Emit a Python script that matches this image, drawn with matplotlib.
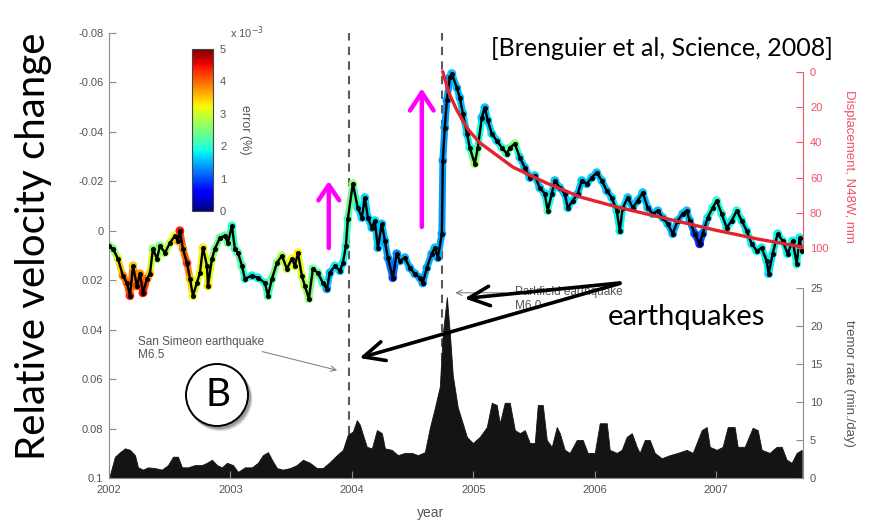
import numpy as np
import matplotlib
matplotlib.use("Agg")
import matplotlib.pyplot as plt
from matplotlib.patches import Ellipse, FancyArrowPatch
from matplotlib.collections import LineCollection

plt.rcParams["font.family"] = ["Liberation Sans", "DejaVu Sans"]

# relative velocity change dv/v (positive = slower), with its error (x1e-3 %)
dvv_year = [
    2002.000, 2002.033, 2002.074, 2002.115, 2002.148, 2002.173, 2002.198, 2002.230,
    2002.255, 2002.280, 2002.313, 2002.337, 2002.362, 2002.395, 2002.420, 2002.461,
    2002.502, 2002.543, 2002.568, 2002.584, 2002.609, 2002.642, 2002.667, 2002.691,
    2002.724, 2002.749, 2002.774, 2002.807, 2002.815, 2002.848, 2002.872, 2002.914,
    2002.955, 2002.979, 2003.012, 2003.037, 2003.062, 2003.095, 2003.119, 2003.177,
    2003.226, 2003.284, 2003.309, 2003.342, 2003.383, 2003.424, 2003.465, 2003.506,
    2003.531, 2003.556, 2003.588, 2003.613, 2003.646, 2003.679, 2003.720, 2003.761,
    2003.794, 2003.819, 2003.860, 2003.901, 2003.926, 2003.951, 2003.967, 2004.008,
    2004.049, 2004.082, 2004.107, 2004.132, 2004.165, 2004.189, 2004.214, 2004.247,
    2004.272, 2004.296, 2004.337, 2004.370, 2004.395, 2004.436, 2004.477, 2004.519,
    2004.560, 2004.584, 2004.617, 2004.658, 2004.683, 2004.708, 2004.741, 2004.749,
    2004.765, 2004.782, 2004.807, 2004.823, 2004.864, 2004.889, 2004.914, 2004.947,
    2004.971, 2005.012, 2005.037, 2005.070, 2005.095, 2005.119, 2005.152, 2005.193,
    2005.235, 2005.276, 2005.300, 2005.342, 2005.383, 2005.424, 2005.465, 2005.506,
    2005.547, 2005.588, 2005.613, 2005.646, 2005.671, 2005.712, 2005.753, 2005.778,
    2005.819, 2005.860, 2005.893, 2005.934, 2005.975, 2006.016, 2006.058, 2006.099,
    2006.140, 2006.181, 2006.206, 2006.230, 2006.272, 2006.313, 2006.354, 2006.395,
    2006.436, 2006.477, 2006.519, 2006.560, 2006.601, 2006.642, 2006.683, 2006.724,
    2006.757, 2006.782, 2006.823, 2006.864, 2006.889, 2006.930, 2006.971, 2007.004,
    2007.045, 2007.086, 2007.128, 2007.169, 2007.210, 2007.251, 2007.292, 2007.333,
    2007.374, 2007.416, 2007.432, 2007.465, 2007.506, 2007.547, 2007.588, 2007.630,
    2007.663, 2007.687, 2007.704,
]
dvv_value = [
    0.0061, 0.0073, 0.0113, 0.0182, 0.0211, 0.0263, 0.0142, 0.0223,
    0.0174, 0.0251, 0.0194, 0.0174, 0.0073, 0.0113, 0.0061, 0.0089,
    0.0049, 0.0020, 0.0041, 0.0000, 0.0073, 0.0130, 0.0194, 0.0263,
    0.0211, 0.0170, 0.0069, 0.0142, 0.0223, 0.0113, 0.0073, 0.0028,
    0.0020, 0.0049, -0.0020, 0.0073, 0.0089, 0.0142, 0.0194, 0.0182,
    0.0190, 0.0211, 0.0263, 0.0194, 0.0130, 0.0101, 0.0154, 0.0113,
    0.0142, 0.0089, 0.0182, 0.0223, 0.0275, 0.0154, 0.0170, 0.0211,
    0.0235, 0.0170, 0.0142, 0.0162, 0.0130, 0.0061, -0.0049, -0.0190,
    -0.0093, -0.0053, -0.0134, -0.0053, -0.0012, -0.0041, 0.0069, -0.0028,
    0.0041, 0.0109, 0.0190, 0.0093, 0.0122, 0.0109, 0.0150, 0.0174,
    0.0190, 0.0211, 0.0150, 0.0093, 0.0069, 0.0109, 0.0012, -0.0284,
    -0.0417, -0.0527, -0.0620, -0.0636, -0.0579, -0.0539, -0.0474, -0.0393,
    -0.0336, -0.0271, -0.0336, -0.0458, -0.0498, -0.0446, -0.0393, -0.0365,
    -0.0336, -0.0312, -0.0336, -0.0352, -0.0296, -0.0255, -0.0215, -0.0223,
    -0.0174, -0.0150, -0.0081, -0.0150, -0.0203, -0.0174, -0.0150, -0.0093,
    -0.0122, -0.0150, -0.0203, -0.0190, -0.0215, -0.0235, -0.0203, -0.0162,
    -0.0134, -0.0081, 0.0000, -0.0093, -0.0134, -0.0093, -0.0122, -0.0154,
    -0.0093, -0.0069, -0.0081, -0.0053, -0.0028, 0.0012, -0.0041, -0.0069,
    -0.0081, -0.0041, 0.0012, 0.0053, 0.0012, -0.0053, -0.0093, -0.0122,
    -0.0069, -0.0012, -0.0041, -0.0081, -0.0041, 0.0000, 0.0053, 0.0081,
    0.0069, 0.0122, 0.0174, 0.0093, 0.0012, 0.0041, 0.0093, 0.0041,
    0.0134, 0.0028, 0.0081,
]
dvv_error = [
    2.5, 2.5, 3.0, 3.8, 4.0, 4.3, 3.5, 4.2,
    3.8, 4.5, 4.0, 3.5, 2.6, 2.8, 2.5, 2.8,
    3.0, 3.2, 3.6, 4.4, 3.8, 4.2, 3.5, 3.2,
    3.0, 3.2, 3.3, 3.0, 3.4, 2.8, 2.5, 2.4,
    2.3, 2.4, 2.0, 2.2, 2.3, 2.2, 2.0, 1.8,
    1.8, 2.0, 2.2, 2.3, 2.6, 2.8, 3.0, 3.2,
    3.0, 3.3, 3.0, 2.8, 2.6, 2.4, 2.3, 2.0,
    1.5, 1.6, 1.8, 1.7, 1.8, 2.0, 2.2, 2.6,
    1.8, 1.7, 1.7, 1.6, 1.6, 1.7, 1.6, 1.6,
    1.5, 1.4, 1.0, 1.3, 1.5, 1.5, 1.5, 1.5,
    1.5, 1.4, 1.5, 1.5, 1.6, 1.5, 1.4, 1.4,
    1.4, 1.4, 1.4, 1.6, 1.6, 1.6, 1.6, 1.7,
    1.9, 2.8, 2.2, 1.6, 1.6, 1.6, 1.7, 1.7,
    2.0, 2.2, 2.4, 2.5, 1.7, 1.6, 1.6, 1.6,
    1.6, 1.7, 2.2, 1.7, 1.6, 1.6, 1.6, 1.7,
    1.7, 1.6, 1.6, 1.6, 1.6, 1.6, 1.6, 1.6,
    1.7, 1.8, 1.8, 1.8, 1.6, 1.6, 1.6, 1.6,
    1.6, 1.6, 1.6, 1.6, 1.6, 1.5, 1.6, 1.6,
    1.6, 1.5, 1.0, 0.8, 1.2, 1.8, 1.9, 2.0,
    1.9, 1.8, 1.8, 1.9, 1.8, 1.8, 1.8, 1.8,
    1.8, 1.8, 1.7, 1.8, 1.8, 1.9, 1.8, 1.8,
    1.9, 1.8, 2.0,
]

# postseismic displacement (mm) after Parkfield
disp_year = [2004.749, 2004.80, 2004.864, 2004.95, 2005.05, 2005.325, 2005.60,
             2005.88, 2006.20, 2006.535, 2006.99, 2007.35, 2007.71]
disp_mm = [0, 12, 21.6, 32, 40, 54, 63, 71, 77, 82.4, 89.8, 95, 99.4]

# non-volcanic tremor rate (min/day)
tremor_year = [
    2002.008, 2002.049, 2002.091, 2002.132, 2002.173, 2002.214, 2002.239, 2002.280,
    2002.321, 2002.379, 2002.436, 2002.486, 2002.527, 2002.568, 2002.601, 2002.650,
    2002.708, 2002.765, 2002.807, 2002.848, 2002.889, 2002.930, 2002.971, 2003.021,
    2003.062, 2003.119, 2003.177, 2003.226, 2003.267, 2003.309, 2003.342, 2003.383,
    2003.432, 2003.490, 2003.547, 2003.597, 2003.654, 2003.712, 2003.761, 2003.819,
    2003.877, 2003.926, 2003.967, 2004.008, 2004.041, 2004.066, 2004.091, 2004.123,
    2004.165, 2004.206, 2004.247, 2004.272, 2004.329, 2004.379, 2004.436, 2004.494,
    2004.543, 2004.601, 2004.642, 2004.683, 2004.724, 2004.749, 2004.782, 2004.807,
    2004.831, 2004.872, 2004.905, 2004.947, 2004.996, 2005.053, 2005.111, 2005.152,
    2005.193, 2005.218, 2005.259, 2005.300, 2005.342, 2005.383, 2005.424, 2005.465,
    2005.506, 2005.531, 2005.572, 2005.605, 2005.646, 2005.687, 2005.712, 2005.753,
    2005.794, 2005.852, 2005.901, 2005.942, 2006.000, 2006.041, 2006.099, 2006.123,
    2006.181, 2006.222, 2006.263, 2006.305, 2006.346, 2006.370, 2006.412, 2006.453,
    2006.494, 2006.551, 2006.617, 2006.683, 2006.757, 2006.807, 2006.881, 2006.922,
    2006.947, 2007.004, 2007.053, 2007.095, 2007.152, 2007.177, 2007.235, 2007.300,
    2007.342, 2007.374, 2007.440, 2007.498, 2007.539, 2007.580, 2007.621, 2007.663,
    2007.704,
]
tremor_rate = [
    0.4, 2.8, 3.4, 3.9, 3.7, 3.0, 1.4, 1.1,
    1.4, 1.3, 1.1, 1.7, 2.8, 2.8, 1.4, 1.4,
    1.7, 1.7, 2.0, 2.4, 1.7, 1.4, 2.0, 1.7,
    0.8, 1.4, 1.4, 2.0, 3.0, 3.4, 2.4, 1.3,
    1.1, 1.3, 1.7, 2.4, 2.0, 1.3, 1.3, 2.1,
    3.0, 3.7, 5.7, 6.1, 7.6, 7.0, 5.7, 4.1,
    3.9, 6.3, 5.9, 3.9, 3.7, 3.0, 3.3, 3.3,
    3.0, 3.4, 6.6, 9.2, 12.0, 19.0, 23.8, 19.0,
    13.5, 9.3, 7.6, 5.4, 4.6, 5.4, 6.7, 9.9,
    9.6, 7.2, 9.9, 9.9, 6.3, 5.9, 6.3, 4.6,
    4.6, 9.6, 9.6, 5.0, 4.1, 6.7, 5.9, 3.7,
    3.3, 5.0, 5.0, 3.3, 3.3, 7.2, 7.2, 3.7,
    3.3, 3.7, 5.4, 5.9, 4.1, 3.3, 5.0, 5.0,
    3.3, 2.6, 3.0, 3.3, 3.7, 3.3, 6.3, 6.7,
    4.1, 3.7, 4.1, 6.7, 6.7, 4.1, 4.1, 6.6,
    6.3, 3.7, 3.3, 4.1, 4.1, 2.4, 2.0, 3.3,
    3.7,
]

quake_years = [2003.975, 2004.741]
year_ticks = [2002, 2003, 2004, 2005, 2006, 2007]
dvv_ticks = [-0.08, -0.06, -0.04, -0.02, 0, 0.02, 0.04, 0.06, 0.08, 0.1]
dvv_tick_labels = ["-0.08", "-0.06", "-0.04", "-0.02", "0", "0.02", "0.04", "0.06", "0.08", "0.1"]
tremor_ticks = [0, 5, 10, 15, 20, 25]
disp_ticks = [0, 20, 40, 60, 80, 100]

GREY_TXT = "#555555"
GREY_AX = "#8c8c8c"
RED_AX = "#ee5566"
CALLOUT = ["Lato", "DejaVu Sans"]

fig = plt.figure(figsize=(8.76, 5.26), dpi=100)
ax = fig.add_axes([0.1244, 0.0913, 0.7923, 0.846])
ax_tr = ax.twinx()
ax_dp = ax.twinx()
ax_tr.set_zorder(1)
ax.set_zorder(2)
ax_dp.set_zorder(3)
ax.patch.set_visible(False)

# tremor rate (filled) and earthquake times
ax_tr.fill_between(tremor_year, 0, tremor_rate, color="#141414", lw=0.6,
                   edgecolor="#141414", zorder=2)
for yr in quake_years:
    ax_tr.axvline(yr, color="#5a5a5a", lw=1.5, ls=(0, (4, 3)), zorder=1)
ax_tr.set_ylim(0, 58.55)
ax_tr.set_yticks(tremor_ticks)
ax_tr.spines[["top", "left", "bottom"]].set_visible(False)
ax_tr.spines["right"].set_bounds(0, 25)
ax_tr.spines["right"].set_color(GREY_AX)
ax_tr.tick_params(axis="y", direction="in", length=5, pad=5, colors=GREY_AX,
                  labelcolor=GREY_TXT, labelsize=8)
ax_tr.set_ylabel("tremor rate (min./day)", rotation=270, color=GREY_TXT, fontsize=9.5)
ax_tr.yaxis.set_label_coords(1.066, 0.213)
ax_tr.yaxis.label.set_va("center")

# dv/v: coloured halo by error, black trace with dots on top
pts = np.column_stack([dvv_year, dvv_value])
err = np.asarray(dvv_error)
halo = LineCollection(np.stack([pts[:-1], pts[1:]], axis=1), cmap="jet",
                      norm=plt.Normalize(0, 5), lw=5, capstyle="round", zorder=1)
halo.set_array((err[:-1] + err[1:]) / 2)
ax.add_collection(halo)
sc = ax.scatter(dvv_year, dvv_value, c=dvv_error, cmap="jet", vmin=0, vmax=5,
                s=40, linewidths=0, zorder=2)
ax.plot(dvv_year, dvv_value, color="black", lw=1.7, marker="o", ms=2.6, zorder=3)
ax.set_xlim(2002, 2007.715)
ax.set_ylim(0.1, -0.08)
ax.set_xticks(year_ticks)
ax.set_yticks(dvv_ticks, dvv_tick_labels)
ax.spines[["top", "right"]].set_visible(False)
for side in ["left", "bottom"]:
    ax.spines[side].set_color(GREY_AX)
ax.tick_params(direction="in", length=5, colors=GREY_AX, labelcolor=GREY_TXT, labelsize=8)
ax.tick_params(axis="x", pad=5)
ax.tick_params(axis="y", pad=4)
ax.set_xlabel("year", color=GREY_TXT, fontsize=10)
ax.xaxis.set_label_coords(0.463, -0.062)

# displacement curve on its own right axis
ax_dp.plot(disp_year, disp_mm, color="#e5232f", lw=2.4)
ax_dp.set_ylim(230.7, -22.2)
ax_dp.set_yticks(disp_ticks)
ax_dp.spines[["top", "left", "bottom"]].set_visible(False)
ax_dp.spines["right"].set_bounds(0, 100)
ax_dp.spines["right"].set_color(RED_AX)
ax_dp.tick_params(axis="y", direction="in", length=5, pad=5, colors=RED_AX,
                  labelcolor=RED_AX, labelsize=8)
ax_dp.set_ylabel("Displacement, N48W, mm", rotation=270, color=RED_AX, fontsize=9.5)
ax_dp.yaxis.set_label_coords(1.066, 0.699)
ax_dp.yaxis.label.set_va("center")

# colour bar for the error
cax = fig.add_axes([0.2192, 0.5989, 0.024, 0.308])
cb = fig.colorbar(sc, cax=cax, ticks=[0, 1, 2, 3, 4, 5])
cb.outline.set_edgecolor("#444444")
cb.outline.set_linewidth(0.8)
cax.tick_params(length=0, pad=5, labelsize=8, labelcolor=GREY_TXT)
cax.set_ylabel("error (%)", rotation=270, color=GREY_TXT, fontsize=9)
cax.yaxis.set_label_coords(2.52, 0.5)
cax.yaxis.label.set_va("center")
fig.text(0.2626, 0.928, r"x 10$^{-3}$", color=GREY_TXT, fontsize=8)

# earthquake annotations
ax.text(2002.24, 0.0425, "San Simeon earthquake\nM6.5", color=GREY_TXT, fontsize=8.5,
        va="top", ha="left", linespacing=1.15, zorder=1)
ax.annotate("", xy=(2003.90, 0.0567), xytext=(2003.24, 0.0486),
            arrowprops=dict(arrowstyle="->", color="#777777", lw=0.7))
ax.text(2005.34, 0.0225, "Parkfield earthquake\nM6.0", color=GREY_TXT, fontsize=8.5,
        va="top", ha="left", linespacing=1.15, zorder=1)
ax.annotate("", xy=(2004.83, 0.0251), xytext=(2005.28, 0.0251),
            arrowprops=dict(arrowstyle="->", color="#777777", lw=0.7))

# highlighted velocity drops
for x0, y0, y1, hl, hw in [(2003.81, 0.0081, -0.0212, 1.1, 0.75),
                           (2004.576, -0.0004, -0.0587, 1.3, 0.85)]:
    ax.add_patch(FancyArrowPatch((x0, y0), (x0, y1), arrowstyle=f"->,head_length={hl},head_width={hw}",
                                 mutation_scale=10, color="#ff00ff", lw=3.2, zorder=5))

# pointers from the "earthquakes" note
for xe, ye in [(2004.04, 0.0518), (2004.905, 0.0275)]:
    ax.add_patch(FancyArrowPatch((2006.23, 0.021), (xe, ye),
                                 arrowstyle="->,head_length=1.5,head_width=0.7",
                                 mutation_scale=10, color="black", lw=2.6, zorder=6))

fig.text(0.694, 1 - 325 / 526, "earthquakes", fontsize=21, family=CALLOUT, va="baseline")
fig.text(0.5605, 1 - 56 / 526, "[Brenguier et al, Science, 2008]", fontsize=18,
         family=CALLOUT, va="baseline")
fig.text(0.0514, 1 - 460 / 526, "Relative velocity change", fontsize=29, family=CALLOUT,
         rotation=90, rotation_mode="anchor", ha="left", va="baseline")

# circled panel letter with a soft shadow
cx, cy = 217 / 876, 1 - 395 / 526
for dx, dy, a in [(0.004, -0.008, 0.10), (0.003, -0.006, 0.15), (0.002, -0.004, 0.2)]:
    fig.add_artist(Ellipse((cx + dx, cy + dy), 64 / 876, 64 / 526, transform=fig.transFigure,
                           facecolor="black", edgecolor="none", alpha=a, zorder=9))
fig.add_artist(Ellipse((cx, cy), 62 / 876, 62 / 526, transform=fig.transFigure,
                       facecolor="white", edgecolor="black", lw=1.4, zorder=10))
fig.text(cx + 0.001, cy, "B", fontsize=28, family=CALLOUT, ha="center", va="center", zorder=11)

fig.savefig("out.png", dpi=100)
